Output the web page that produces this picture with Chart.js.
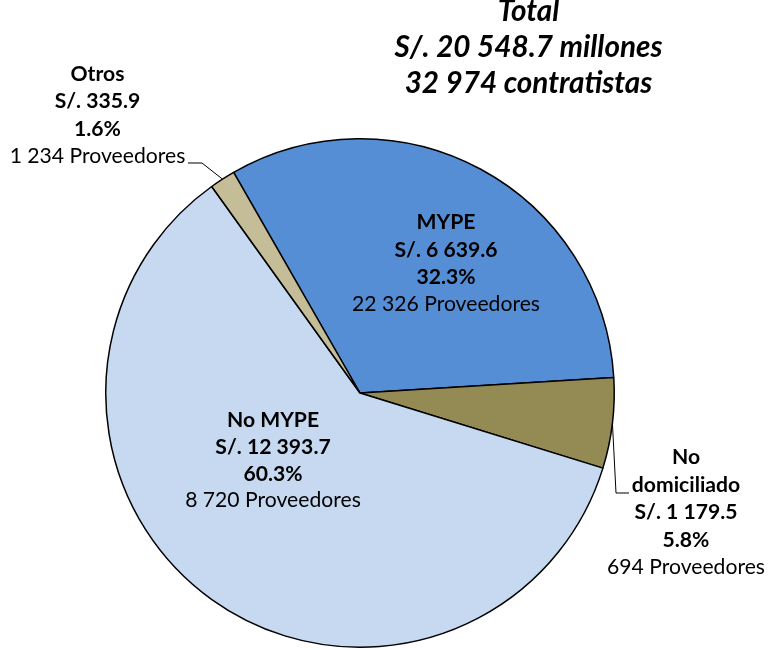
<!DOCTYPE html>
<html><head><meta charset="utf-8">
<script src="https://cdn.jsdelivr.net/npm/chart.js@4"></script>
<style>html,body{margin:0;padding:0;background:#fff}#wrap{width:769px;height:650px;position:relative}</style>
</head><body><div id="wrap"><canvas id="c"></canvas></div>
<script>
const categories = ['MYPE', 'No domiciliado', 'No MYPE', 'Otros'];
const nameLines = [['MYPE'], ['No', 'domiciliado'], ['No MYPE'], ['Otros']];
const amounts = [6639.6, 1179.5, 12393.7, 335.9];
const percentLabels = ['32.3%', '5.8%', '60.3%', '1.6%'];
const providers = [22326, 694, 8720, 1234];
const colors = ['#558ED5', '#948A54', '#C6D9F1', '#C4BD97'];

function fmt(n, dec) {
  const s = n.toFixed(dec);
  let [i, d] = s.split('.');
  i = i.replace(/\B(?=(\d{3})+(?!\d))/g, ' ');
  return d ? i + '.' + d : i;
}
const totalAmount = amounts.reduce((a, b) => a + b, 0);
const totalProviders = providers.reduce((a, b) => a + b, 0);
const titleLines = ['Total', 'S/. ' + fmt(totalAmount, 1) + ' millones', fmt(totalProviders, 0) + ' contratistas'];

// label layout (annotation text placement)
const labelLayout = [
  { x: 446, y: 229.3, gap: 27.3 },
  { x: 686, y: 464, gap: 27.5, leader: [[616, 493], [629, 493]] },
  { x: 273, y: 426.7, gap: 26.9 },
  { x: 97.5, y: 80.7, gap: 27.5, leader: [[202, 163], [188, 163]] }
];
const FAMILY = 'Lato, "Open Sans", sans-serif';

function fitSize(ctx, text, prefix, target, base) {
  ctx.font = prefix + ' ' + base + 'px ' + FAMILY;
  const w = ctx.measureText(text).width;
  return base * target / w;
}

const labelsPlugin = {
  id: 'pieLabels',
  afterDraw(chart) {
    const ctx = chart.ctx;
    const meta = chart.getDatasetMeta(0);
    ctx.save();
    ctx.fillStyle = '#000';
    ctx.textAlign = 'center';
    ctx.textBaseline = 'alphabetic';
    // title
    const tSize = fitSize(ctx, titleLines[1], 'italic bold', 268, 28);
    ctx.font = 'italic bold ' + tSize.toFixed(2) + 'px ' + FAMILY;
    const tBase = [21, 57, 93.3];
    titleLines.forEach((t, i) => ctx.fillText(t, 528.5, tBase[i]));
    // labels
    const nSize = fitSize(ctx, '22 326 Proveedores', 'normal', 188, 19);
    categories.forEach((c, k) => {
      const L = labelLayout[k];
      const lines = [];
      nameLines[k].forEach(n => lines.push([n, true]));
      lines.push(['S/. ' + fmt(amounts[k], 1), true]);
      lines.push([percentLabels[k], true]);
      lines.push([fmt(providers[k], 0) + ' Proveedores', false]);
      lines.forEach((ln, i) => {
        ctx.font = (ln[1] ? 'bold ' : 'normal ') + nSize.toFixed(2) + 'px ' + FAMILY;
        ctx.fillText(ln[0], L.x, L.y + i * L.gap);
      });
      if (L.leader) {
        const arc = meta.data[k];
        const mid = (arc.startAngle + arc.endAngle) / 2;
        const sx = arc.x + Math.cos(mid) * arc.outerRadius;
        const sy = arc.y + Math.sin(mid) * arc.outerRadius;
        ctx.beginPath();
        ctx.strokeStyle = '#000';
        ctx.lineWidth = 1;
        ctx.moveTo(sx, sy);
        L.leader.forEach(p => ctx.lineTo(p[0], p[1]));
        ctx.stroke();
      }
    });
    ctx.restore();
  }
};

new Chart(document.getElementById('c'), {
  type: 'pie',
  data: {
    labels: categories,
    datasets: [{
      data: amounts,
      backgroundColor: colors,
      borderColor: '#000',
      borderWidth: 1.5
    }]
  },
  options: {
    responsive: true,
    maintainAspectRatio: false,
    animation: false,
    rotation: -29.8,
    layout: { padding: { left: 105, right: 154, top: 138, bottom: 2 } },
    plugins: { legend: { display: false }, tooltip: { enabled: false }, title: { display: false } }
  },
  plugins: [labelsPlugin]
});
</script>
</body></html>
